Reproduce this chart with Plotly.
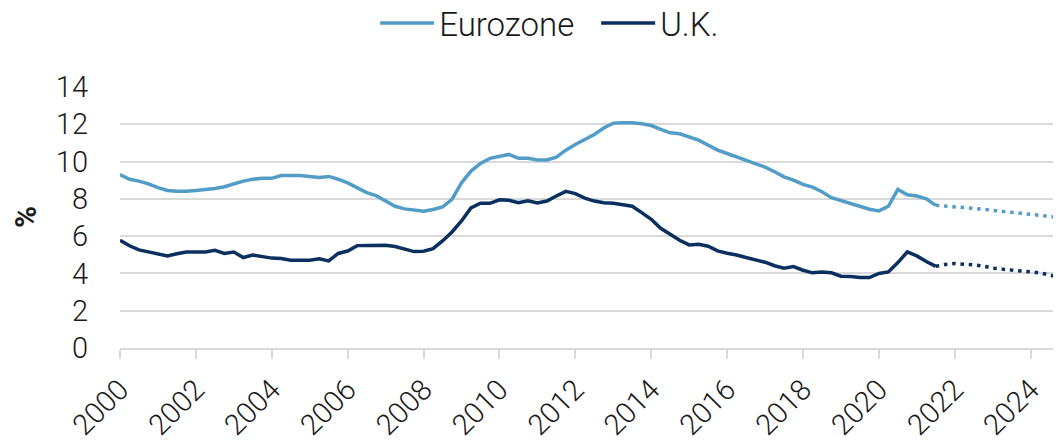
import plotly.graph_objects as go

# quarterly unemployment rate, 2000 Q1 .. 2021 Q3 (actual)
quarters = [2000 + i * 0.25 for i in range(87)]

eurozone = [
    9.3, 9.05, 8.95, 8.8, 8.6, 8.45, 8.4, 8.4, 8.45, 8.5,
    8.55, 8.65, 8.8, 8.95, 9.05, 9.1, 9.1, 9.25, 9.25, 9.25,
    9.2, 9.15, 9.2, 9.05, 8.85, 8.6, 8.33, 8.17, 7.88, 7.6,
    7.46, 7.39, 7.33, 7.43, 7.56, 7.97, 8.86, 9.49, 9.9, 10.17,
    10.29, 10.38, 10.17, 10.17, 10.08, 10.08, 10.24, 10.61, 10.91, 11.18,
    11.45, 11.8, 12.06, 12.08, 12.08, 12.02, 11.93, 11.72, 11.54, 11.49,
    11.32, 11.15, 10.88, 10.61, 10.43, 10.24, 10.08, 9.85, 9.7, 9.45,
    9.18, 9.0, 8.77, 8.63, 8.38, 8.06, 7.9, 7.76, 7.6, 7.44,
    7.35, 7.6, 8.5, 8.22, 8.15, 8.0, 7.65,
]

uk = [
    5.78, 5.48, 5.26, 5.15, 5.07, 4.94, 5.05, 5.15, 5.15, 5.15,
    5.24, 5.07, 5.15, 4.85, 4.98, 4.9, 4.82, 4.8, 4.71, 4.71,
    4.71, 4.78, 4.67, 5.07, 5.2, 5.49, 5.51, 5.51, 5.51, 5.44,
    5.31, 5.17, 5.19, 5.33, 5.74, 6.22, 6.81, 7.51, 7.76, 7.76,
    7.95, 7.92, 7.79, 7.9, 7.78, 7.88, 8.15, 8.4, 8.28, 8.04,
    7.88, 7.79, 7.76, 7.7, 7.6, 7.26, 6.9, 6.42, 6.1, 5.78,
    5.53, 5.56, 5.46, 5.21, 5.08, 4.99, 4.85, 4.73, 4.6, 4.41,
    4.28, 4.37, 4.17, 4.03, 4.07, 4.03, 3.85, 3.83, 3.78, 3.78,
    4.0, 4.08, 4.58, 5.15, 4.94, 4.64, 4.38,
]

# forecast, 2021 Q3 .. 2024 Q4
forecast_quarters = [2021.5 + i * 0.25 for i in range(14)]
eurozone_fc = [7.65, 7.62, 7.59, 7.55, 7.49, 7.44, 7.38, 7.32, 7.27, 7.22, 7.15, 7.1, 7.05, 7.0]
uk_fc = [4.38, 4.48, 4.53, 4.51, 4.46, 4.39, 4.28, 4.23, 4.19, 4.14, 4.09, 4.03, 3.92, 3.78]

year_ticks = list(range(2000, 2025, 2))

EZ_COLOR = "#529dc8"
UK_COLOR = "#0b2f5e"
GRID = "#d9d9d9"
FONT = "Roboto"
DOTS = "3.5px,4.8px"

fig = go.Figure()
fig.add_trace(go.Scatter(x=quarters, y=eurozone, name="Eurozone", mode="lines",
                         line=dict(color=EZ_COLOR, width=3.5)))
fig.add_trace(go.Scatter(x=quarters, y=uk, name="U.K.", mode="lines",
                         line=dict(color=UK_COLOR, width=3.5)))
fig.add_trace(go.Scatter(x=forecast_quarters, y=eurozone_fc, mode="lines", showlegend=False,
                         line=dict(color=EZ_COLOR, width=3.5, dash=DOTS)))
fig.add_trace(go.Scatter(x=forecast_quarters, y=uk_fc, mode="lines", showlegend=False,
                         line=dict(color=UK_COLOR, width=3.5, dash=DOTS)))

# the page adds an 8px body margin, so the margins below are shifted by it
fig.update_layout(
    width=1061, height=440,
    margin=dict(l=111.5, r=8, t=78, b=100, autoexpand=False),
    plot_bgcolor="white", paper_bgcolor="white",
    font=dict(family=FONT, size=29, color="#1a1a1a", weight=300),
    legend=dict(orientation="h", x=0.506, xanchor="center", y=1.24, yanchor="middle",
                itemwidth=54, entrywidth=152, font=dict(size=33), bgcolor="rgba(0,0,0,0)"),
    xaxis=dict(range=[2000, 2024.8], tickvals=year_ticks, tickangle=-45, automargin=False,
               showgrid=False, zeroline=False, showline=True, linecolor=GRID, linewidth=2,
               ticks="outside", ticklen=9, tickwidth=2, tickcolor=GRID,
               ticklabelstandoff=2, tickfont=dict(size=29)),
    yaxis=dict(range=[0, 14.05], tickvals=list(range(0, 15, 2)), automargin=False,
               showgrid=True, gridcolor=GRID, gridwidth=2, zeroline=False,
               ticklabelstandoff=31, tickfont=dict(size=29),
               title=dict(text="%", font=dict(size=30, weight=700), standoff=19)),
)

fig.write_html("out.html")
